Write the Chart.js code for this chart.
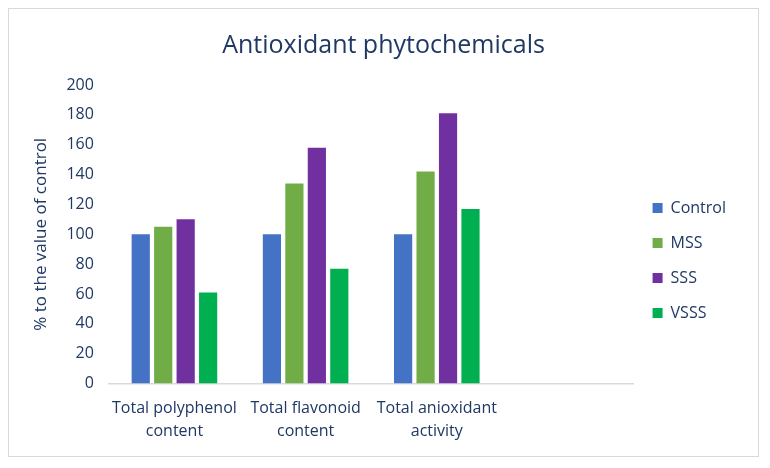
<!DOCTYPE html>
<html>
<head>
<meta charset="utf-8">
<script src="https://cdn.jsdelivr.net/npm/chart.js@4.4.1/dist/chart.umd.min.js"></script>
<style>
  body{margin:0;background:#fff;}
  #box{position:absolute;left:8px;top:8px;width:751px;height:449px;border:1px solid #d9d9d9;box-sizing:border-box;}
  #c{display:block;}
</style>
</head>
<body>
<div id="box"><canvas id="c" width="749" height="447"></canvas></div>
<script>
// categorias (la cuarta va vacia, como en el original)
var categorias = [["Total polyphenol", "content"], ["Total flavonoid", "content"], ["Total anioxidant", "activity"], ""];
var control = [100, 100, 100, null];
var mss = [105, 134, 142, null];
var sss = [110, 158, 181, null];
var vsss = [61, 77, 117, null];

var azul = "#1f3864";

new Chart(document.getElementById("c"), {
  type: "bar",
  data: {
    labels: categorias,
    datasets: [
      {label: "Control", data: control, backgroundColor: "#4472c4"},
      {label: "MSS", data: mss, backgroundColor: "#70ad47"},
      {label: "SSS", data: sss, backgroundColor: "#7030a0"},
      {label: "VSSS", data: vsss, backgroundColor: "#00b050"}
    ]
  },
  options: {
    responsive: false,
    animation: false,
    categoryPercentage: 0.685,
    barPercentage: 0.81,
    layout: {padding: {left: 22, right: 22, top: 12, bottom: 0}},
    plugins: {
      title: {
        display: true, text: "Antioxidant phytochemicals", color: azul,
        font: {family: "Open Sans", size: 25, weight: "normal"}, padding: {top: 10, bottom: 24}
      },
      legend: {
        position: "right",
        title: {display: true, text: " ", font: {size: 15}, padding: {top: 26, bottom: 0}},
        labels: {
          color: azul, font: {family: "Open Sans", size: 16},
          boxWidth: 10, boxHeight: 10, padding: 19
        }
      },
      tooltip: {enabled: false}
    },
    scales: {
      x: {
        grid: {display: false, drawTicks: false},
        border: {color: "#d9d9d9", width: 1.5},
        ticks: {color: azul, font: {family: "Open Sans", size: 16, lineHeight: 1.45}, padding: 13, maxRotation: 0, autoSkip: false}
      },
      y: {
        min: 0, max: 200,
        grid: {display: false, drawTicks: false},
        border: {display: false},
        ticks: {stepSize: 20, color: azul, font: {family: "Open Sans", size: 16}, padding: 15},
        title: {display: true, text: "% to the value of control", color: azul, font: {family: "Open Sans", size: 17}, padding: {top: 0, bottom: 0}}
      }
    }
  }
});
</script>
</body>
</html>
